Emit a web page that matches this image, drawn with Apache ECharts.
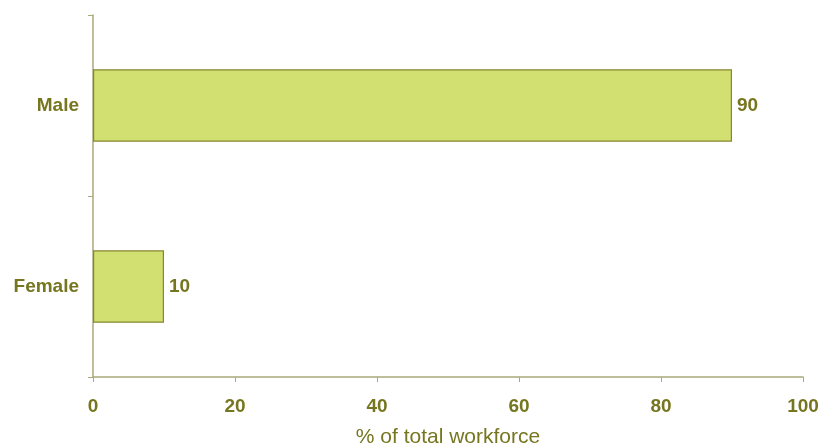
<!DOCTYPE html>
<html>
<head>
<meta charset="utf-8">
<script src="https://cdn.jsdelivr.net/npm/echarts@6/dist/echarts.min.js"></script>
<style>
  html, body { margin: 0; padding: 0; background: #ffffff; }
  #chart { width: 823px; height: 446px; }
</style>
</head>
<body>
<div id="chart"></div>
<script>
// Workforce composition by gender
const categories = ['Female', 'Male'];
const shares = [10, 90];
const axisTitle = '% of total workforce';

const textColor = '#767620';
const axisColor = '#a9a97a';
const font = 'Liberation Sans, Arial, sans-serif';

const chart = echarts.init(document.getElementById('chart'), null, { renderer: 'canvas' });
chart.setOption({
  animation: false,
  backgroundColor: '#ffffff',
  grid: { left: 93, right: 20, top: 15, bottom: 69, containLabel: false, outerBoundsMode: 'none' },
  xAxis: {
    type: 'value',
    min: 0,
    max: 100,
    interval: 20,
    name: axisTitle,
    nameLocation: 'middle',
    nameGap: 50,
    nameTextStyle: { color: textColor, fontFamily: font, fontSize: 21 },
    axisLine: { show: true, lineStyle: { color: axisColor, width: 1.5 } },
    axisTick: { show: true, inside: false, length: 5, lineStyle: { color: axisColor, width: 1 } },
    axisLabel: { color: textColor, fontFamily: font, fontSize: 19, fontWeight: 'bold', margin: 20 },
    splitLine: { show: false }
  },
  yAxis: {
    type: 'category',
    data: categories,
    axisLine: { show: true, lineStyle: { color: axisColor, width: 1.5 } },
    axisTick: { show: true, inside: false, length: 5, lineStyle: { color: axisColor, width: 1 } },
    axisLabel: { color: textColor, fontFamily: font, fontSize: 19, fontWeight: 'bold', margin: 14 },
    splitLine: { show: false }
  },
  series: [{
    type: 'bar',
    data: shares,
    barWidth: '40%',
    itemStyle: { color: '#d1e070', borderColor: '#86862c', borderWidth: 1.2 },
    label: {
      show: true,
      position: 'right',
      distance: 5,
      color: textColor,
      fontFamily: font,
      fontSize: 19,
      fontWeight: 'bold'
    }
  }]
});
</script>
</body>
</html>
